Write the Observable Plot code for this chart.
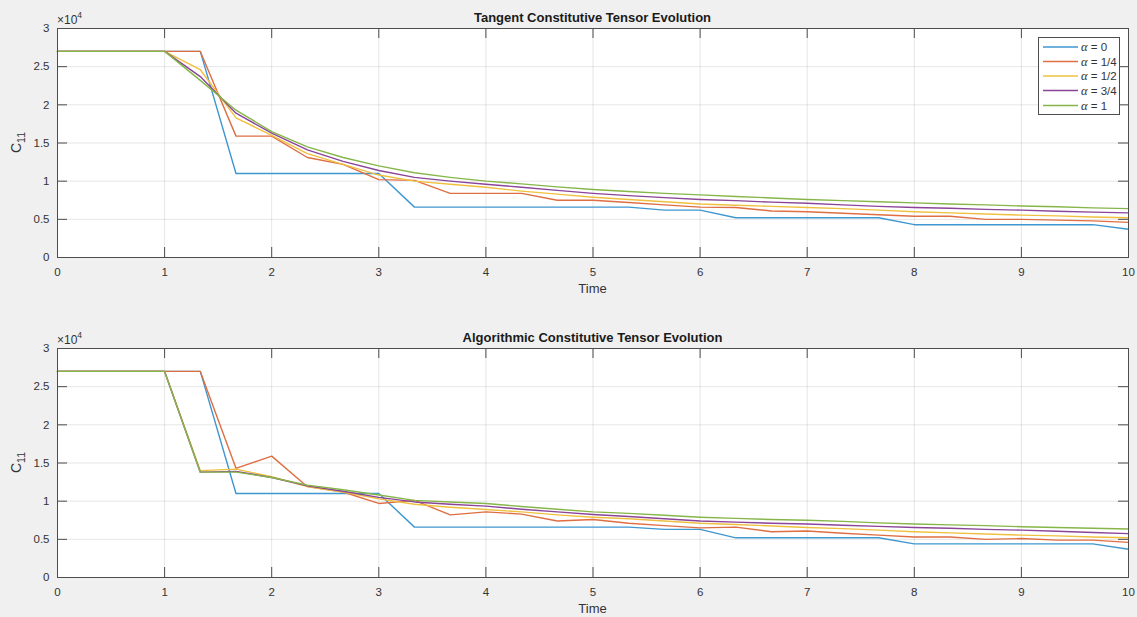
<!DOCTYPE html>
<html>
<head>
<meta charset="utf-8">
<script src="https://cdn.jsdelivr.net/npm/d3@7"></script>
<script src="https://cdn.jsdelivr.net/npm/@observablehq/plot@0.6"></script>
<style>
  html, body { margin: 0; padding: 0; background: #f0f0f0; }
  #fig { position: relative; width: 1137px; height: 617px; background: #f0f0f0; overflow: hidden; }
  #fig svg { display: block; }
  #legend { position: absolute; left: 1038px; top: 37px; }
</style>
</head>
<body>
<div id="fig"></div>
<script>
// ---- data (C11 values in units of 1e4) ----
const time = [0, 1/3, 2/3, 1, 4/3, 5/3, 2, 7/3, 8/3, 3, 10/3, 11/3, 4, 13/3, 14/3, 5, 16/3, 17/3, 6, 19/3, 20/3, 7, 22/3, 23/3, 8, 25/3, 26/3, 9, 28/3, 29/3, 10];
const seriesNames = ["α = 0", "α = 1/4", "α = 1/2", "α = 3/4", "α = 1"];
const seriesColors = ["#3f97d0", "#de6f42", "#efc040", "#8a4598", "#86b64a"];
const xTicks = [0, 1, 2, 3, 4, 5, 6, 7, 8, 9, 10];
const yTicks = [0, 0.5, 1, 1.5, 2, 2.5, 3];
const titles = ["Tangent Constitutive Tensor Evolution", "Algorithmic Constitutive Tensor Evolution"];

// Tangent
const tanA0   = [2.7,2.7,2.7,2.7,2.7,1.1,1.1,1.1,1.1,1.1,0.66,0.66,0.66,0.66,0.66,0.66,0.66,0.62,0.62,0.52,0.52,0.52,0.52,0.52,0.43,0.43,0.43,0.43,0.43,0.43,0.37];
const tanA14  = [2.7,2.7,2.7,2.7,2.7,1.59,1.59,1.31,1.22,1.02,1.01,0.84,0.84,0.84,0.75,0.75,0.72,0.69,0.66,0.655,0.61,0.60,0.58,0.56,0.54,0.54,0.50,0.50,0.49,0.48,0.46];
const tanA12  = [2.7,2.7,2.7,2.7,2.46,1.83,1.60,1.36,1.22,1.08,1.0,0.96,0.92,0.87,0.83,0.79,0.76,0.73,0.70,0.685,0.67,0.655,0.64,0.62,0.60,0.585,0.57,0.555,0.545,0.53,0.52];
const tanA34  = [2.7,2.7,2.7,2.7,2.37,1.89,1.63,1.41,1.26,1.14,1.05,1.0,0.96,0.92,0.88,0.84,0.81,0.785,0.76,0.745,0.725,0.71,0.69,0.67,0.655,0.645,0.63,0.62,0.605,0.595,0.585];
const tanA1   = [2.7,2.7,2.7,2.7,2.32,1.93,1.65,1.45,1.31,1.20,1.11,1.05,1.0,0.965,0.925,0.89,0.865,0.84,0.82,0.80,0.78,0.76,0.745,0.73,0.715,0.70,0.69,0.675,0.665,0.65,0.64];

// Algorithmic
const algA0   = [2.7,2.7,2.7,2.7,2.7,1.1,1.1,1.1,1.1,1.1,0.66,0.66,0.66,0.66,0.66,0.66,0.66,0.63,0.63,0.52,0.52,0.52,0.52,0.52,0.44,0.44,0.44,0.44,0.44,0.44,0.37];
const algA14  = [2.7,2.7,2.7,2.7,2.7,1.43,1.59,1.19,1.12,0.97,1.01,0.82,0.86,0.83,0.74,0.76,0.71,0.68,0.65,0.66,0.60,0.61,0.58,0.555,0.53,0.53,0.50,0.51,0.49,0.49,0.46];
const algA12  = [2.7,2.7,2.7,2.7,1.40,1.42,1.32,1.19,1.12,1.03,0.96,0.92,0.89,0.86,0.82,0.79,0.77,0.74,0.71,0.695,0.675,0.655,0.64,0.62,0.60,0.585,0.57,0.555,0.545,0.53,0.52];
const algA34  = [2.7,2.7,2.7,2.7,1.38,1.39,1.31,1.20,1.13,1.05,0.99,0.96,0.935,0.895,0.86,0.825,0.80,0.77,0.74,0.725,0.71,0.70,0.685,0.67,0.655,0.645,0.63,0.62,0.605,0.59,0.575];
const algA1   = [2.7,2.7,2.7,2.7,1.38,1.38,1.31,1.21,1.15,1.08,1.01,0.99,0.97,0.93,0.895,0.86,0.84,0.815,0.79,0.775,0.76,0.75,0.735,0.715,0.70,0.69,0.68,0.665,0.655,0.645,0.635];

const panels = [
  {title: titles[0], series: [tanA0, tanA14, tanA12, tanA34, tanA1], height: 320, marginBottom: 63},
  {title: titles[1], series: [algA0, algA14, algA12, algA34, algA1], height: 297, marginBottom: 40}
];

const W = 1137, ML = 57, MR = 9, MT = 28;
const fig = document.getElementById("fig");
const axisColor = "#4d4d4d";
const textColor = "#333333";

for (const p of panels) {
  const rows = [];
  p.series.forEach((vals, i) => vals.forEach((v, j) => rows.push({t: time[j], v, s: seriesNames[i]})));
  const plotH = p.height - MT - p.marginBottom;
  const plotW = W - ML - MR;
  const svg = Plot.plot({
    width: W,
    height: p.height,
    marginLeft: ML,
    marginRight: MR,
    marginTop: MT,
    marginBottom: p.marginBottom,
    style: {background: "transparent", fontFamily: "'Liberation Sans', Arial, sans-serif", fontSize: "11.5px", color: textColor},
    x: {domain: [0, 10]},
    y: {domain: [0, 3]},
    color: {domain: seriesNames, range: seriesColors},
    marks: [
      Plot.frame({fill: "white", stroke: null}),
      Plot.gridX(xTicks, {stroke: "#000", strokeOpacity: 0.1}),
      Plot.gridY(yTicks, {stroke: "#000", strokeOpacity: 0.1}),
      Plot.line(rows, {x: "t", y: "v", z: "s", stroke: "s", strokeWidth: 1.4}),
      Plot.tickX(xTicks, {x: d => d, insetTop: plotH - 10, stroke: axisColor}),
      Plot.tickX(xTicks, {x: d => d, insetBottom: plotH - 10, stroke: axisColor}),
      Plot.tickY(yTicks, {y: d => d, insetRight: plotW - 10, stroke: axisColor}),
      Plot.tickY(yTicks, {y: d => d, insetLeft: plotW - 10, stroke: axisColor}),
      Plot.frame({stroke: axisColor}),
      Plot.axisX(xTicks, {tickSize: 0, tickPadding: 10, tickFormat: d => String(d), label: null, fill: textColor}),
      Plot.axisY(yTicks, {tickSize: 0, tickPadding: 8, tickFormat: d => String(d), label: null, fill: textColor})
    ]
  });
  const s = d3.select(svg);
  const cx = ML + plotW / 2;
  const frameBottom = MT + plotH;
  // title
  s.append("text").attr("x", cx).attr("y", 17).attr("text-anchor", "middle").attr("dominant-baseline", "central")
    .attr("font-weight", "bold").attr("font-size", 13).attr("fill", "#1a1a1a").text(p.title);
  // x label
  s.append("text").attr("x", cx).attr("y", frameBottom + 31).attr("text-anchor", "middle").attr("dominant-baseline", "central")
    .attr("font-size", 13).attr("fill", textColor).text("Time");
  // y label C_11
  const yl = s.append("text").attr("transform", `translate(21,${MT + plotH / 2}) rotate(-90)`)
    .attr("text-anchor", "middle").attr("font-size", 14).attr("fill", textColor);
  yl.append("tspan").text("C");
  yl.append("tspan").attr("font-size", 10.5).attr("dy", 4).text("11");
  // exponent ×10^4
  const ex = s.append("text").attr("x", ML).attr("y", MT - 4).attr("text-anchor", "start").attr("font-size", 12).attr("fill", textColor);
  ex.append("tspan").text("×10");
  ex.append("tspan").attr("font-size", 8.5).attr("dy", -6).text("4");
  fig.appendChild(svg);
}

// legend (top panel)
const lg = d3.create("svg").attr("id", "legend").attr("width", 82).attr("height", 78)
  .style("font-family", "'Liberation Sans', Arial, sans-serif").style("font-size", "11.5px");
lg.append("rect").attr("x", 0.5).attr("y", 0.5).attr("width", 81).attr("height", 77).attr("fill", "white").attr("stroke", axisColor);
const rowY = [10, 24.5, 39, 53.5, 68.5];
seriesNames.forEach((name, i) => {
  lg.append("line").attr("x1", 5).attr("x2", 40).attr("y1", rowY[i]).attr("y2", rowY[i]).attr("stroke", seriesColors[i]).attr("stroke-width", 1.4);
  const t = lg.append("text").attr("x", 43).attr("y", rowY[i]).attr("dominant-baseline", "central").attr("text-anchor", "start").attr("fill", textColor);
  const [a, rest] = [name.slice(0, 1), name.slice(1)];
  t.append("tspan").attr("font-family", "'Liberation Serif', 'DejaVu Serif', serif").attr("font-style", "italic").attr("font-size", 12.5).text(a);
  t.append("tspan").text(rest);
});
fig.appendChild(lg.node());
</script>
</body>
</html>
